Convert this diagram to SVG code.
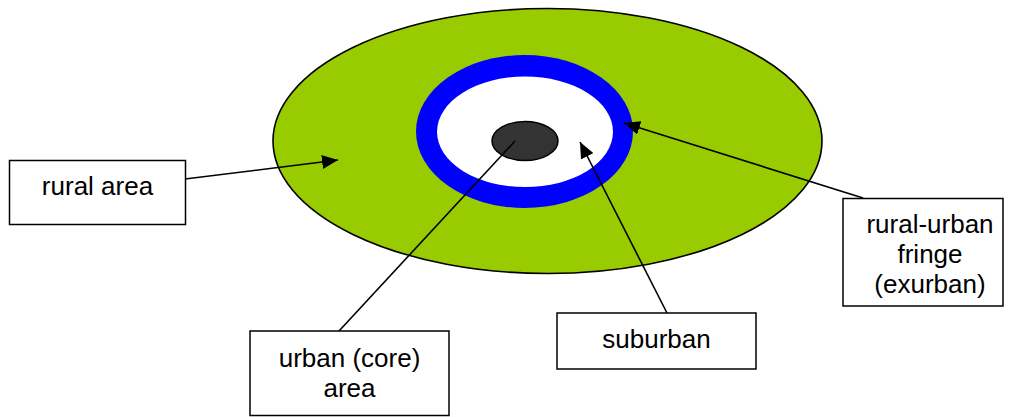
<svg xmlns="http://www.w3.org/2000/svg" width="1010" height="417" viewBox="0 0 1010 417">
  <style>
    .box { fill: #ffffff; stroke: #000000; stroke-width: 1.5; }
    .label { font-family: "Liberation Sans", Arial, sans-serif; font-size: 26px; fill: #000000; text-anchor: middle; }
    .conn { stroke: #000000; stroke-width: 1.6; fill: none; }
  </style>
  <defs>
    <marker id="arrow" markerUnits="userSpaceOnUse" markerWidth="18" markerHeight="14" refX="16" refY="7" orient="auto">
      <path d="M0,0 L16,7 L0,14 Z" fill="#000000"/>
    </marker>
  </defs>

  <!-- concentric zones -->
  <g id="zones">
    <ellipse id="rural-zone" cx="547.5" cy="141" rx="274.5" ry="132.5" fill="#99cc00" stroke="#000000" stroke-width="1.6"/>
    <ellipse id="fringe-zone" cx="524.5" cy="131.5" rx="108.5" ry="76.5" fill="#0000ff"/>
    <ellipse id="suburban-zone" cx="525" cy="131.8" rx="88" ry="55.3" fill="#ffffff"/>
    <ellipse id="core-zone" cx="525" cy="141" rx="33" ry="19.5" fill="#333333" stroke="#000000" stroke-width="1.5"/>
  </g>

  <!-- connectors -->
  <g id="connectors">
    <line class="conn" x1="185" y1="179" x2="338" y2="160" marker-end="url(#arrow)"/>
    <line class="conn" x1="339" y1="331" x2="515" y2="141"/>
    <line class="conn" x1="667" y1="313" x2="580" y2="142" marker-end="url(#arrow)"/>
    <line class="conn" x1="863" y1="198" x2="624" y2="123" marker-end="url(#arrow)"/>
  </g>

  <g id="rural-area">
    <rect class="box" x="9.5" y="160.5" width="176" height="64"/>
    <text class="label" x="97.5" y="195">rural area</text>
  </g>

  <g id="rural-urban-fringe">
    <rect class="box" x="843" y="198.5" width="160" height="107.5"/>
    <text class="label" x="930" y="233">rural-urban</text>
    <text class="label" x="930" y="263">fringe</text>
    <text class="label" x="930" y="293">(exurban)</text>
  </g>

  <g id="urban-core">
    <rect class="box" x="250" y="331" width="199" height="84.5"/>
    <text class="label" x="349.5" y="367">urban (core)</text>
    <text class="label" x="349.5" y="397">area</text>
  </g>

  <g id="suburban">
    <rect class="box" x="557" y="313" width="199" height="56"/>
    <text class="label" x="656.5" y="348">suburban</text>
  </g>
</svg>
